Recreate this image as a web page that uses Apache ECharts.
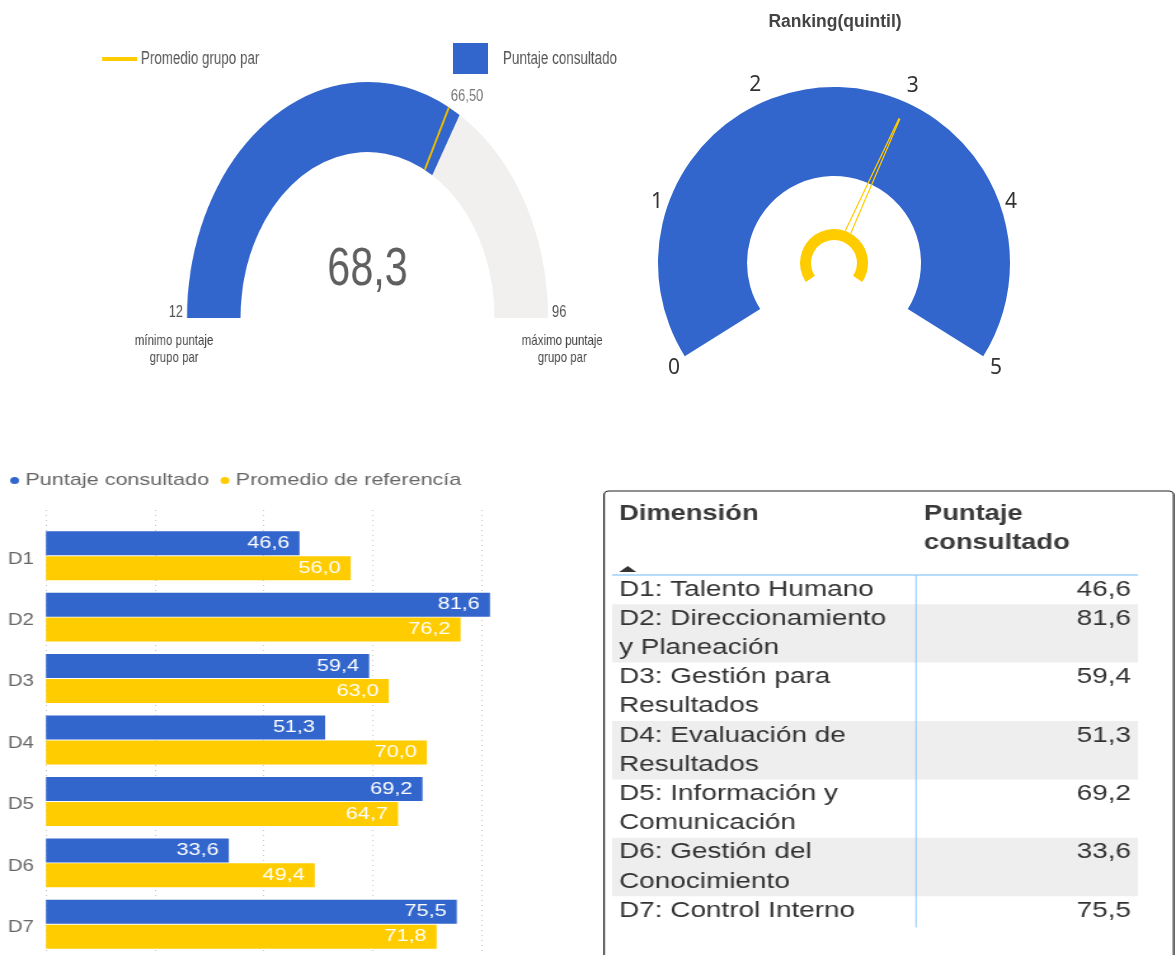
<!DOCTYPE html>
<html>
<head>
<meta charset="utf-8">
<script src="https://cdn.jsdelivr.net/npm/echarts@6/dist/echarts.min.js"></script>
<style>
  html, body { margin: 0; padding: 0; background: #fff; }
  #page { position: relative; width: 1175px; height: 955px; overflow: hidden; }
  .panel { position: absolute; }
  /* the source screenshot is squeezed / stretched horizontally per panel */
  #gaugeScore { left: 0; top: 0; width: 837px; height: 420px; transform: scaleX(0.765); transform-origin: 0 0; }
  #gaugeRank { left: 600px; top: 0; width: 575px; height: 420px; }
  #bottom { left: 0; top: 430px; width: 925px; height: 525px; transform: scaleX(1.27); transform-origin: 0 0; }
</style>
</head>
<body>
<div id="page">
  <div id="bottom" class="panel"></div>
  <div id="gaugeRank" class="panel"></div>
  <div id="gaugeScore" class="panel"></div>
</div>
<script>
const FONT = '"Liberation Sans", Arial, sans-serif';
const BLUE = '#3366CC';
const YELLOW = '#FFCC00';

// gauge: puntaje consultado vs grupo par
const puntajeTotal = 68.3;
const promedioGrupoPar = 66.5;
const minimoGrupoPar = 12;
const maximoGrupoPar = 96;

// gauge: ranking (quintil)
const rankingQuintil = 3;
const rankingMin = 0;
const rankingMax = 5;

// bars + table
const dimensiones = ['D1', 'D2', 'D3', 'D4', 'D5', 'D6', 'D7'];
const puntajeConsultado = [46.6, 81.6, 59.4, 51.3, 69.2, 33.6, 75.5];
const promedioReferencia = [56.0, 76.2, 63.0, 70.0, 64.7, 49.4, 71.8];
const dimensionNombres = [
  'D1: Talento Humano',
  'D2: Direccionamiento\ny Planeación',
  'D3: Gestión para\nResultados',
  'D4: Evaluación de\nResultados',
  'D5: Información y\nComunicación',
  'D6: Gestión del\nConocimiento',
  'D7: Control Interno'
];

const fmt = (v, d) => v.toFixed(d).replace('.', ',');

// ---------- top left gauge ----------
const scoreChart = echarts.init(document.getElementById('gaugeScore'));
const gc = [480.4, 318];
const gR = 236;
const gW = 70;

scoreChart.setOption({
  animation: false,
  polar: { center: gc, radius: gR },
  angleAxis: {
    type: 'value', min: minimoGrupoPar, max: maximoGrupoPar,
    startAngle: 180, endAngle: 0, show: false
  },
  radiusAxis: { type: 'value', min: 0, max: gR, show: false },
  graphic: [
    { type: 'rect', shape: { x: 133.3, y: 57, width: 45.7, height: 4 }, style: { fill: YELLOW } },
    { type: 'text', style: { text: 'Promedio grupo par', x: 184.3, y: 59, align: 'left', verticalAlign: 'middle', fontSize: 17.5, fontFamily: FONT, fill: '#555' } },
    { type: 'rect', shape: { x: 592, y: 43, width: 46, height: 31 }, style: { fill: BLUE } },
    { type: 'text', style: { text: 'Puntaje consultado', x: 657.5, y: 59, align: 'left', verticalAlign: 'middle', fontSize: 17.5, fontFamily: FONT, fill: '#555' } },
    { type: 'text', style: { text: 'mínimo puntaje\ngrupo par', x: 227.5, y: 332, align: 'center', verticalAlign: 'top', lineHeight: 17, fontSize: 15, fontFamily: FONT, fill: '#444' } },
    { type: 'text', style: { text: 'máximo puntaje\ngrupo par', x: 735, y: 332, align: 'center', verticalAlign: 'top', lineHeight: 17, fontSize: 15, fontFamily: FONT, fill: '#444' } }
  ],
  series: [
    {
      type: 'gauge',
      center: gc,
      radius: gR,
      startAngle: 180,
      endAngle: 0,
      min: minimoGrupoPar,
      max: maximoGrupoPar,
      splitNumber: 1,
      axisLine: { lineStyle: { width: gW, color: [[1, '#F1F0EF']] } },
      progress: { show: true, width: gW, itemStyle: { color: BLUE } },
      pointer: { show: false },
      anchor: { show: false },
      axisTick: { show: false },
      splitLine: { show: false, length: 0, distance: 0 },
      axisLabel: {
        distance: -24, color: '#555', fontSize: 17, fontFamily: FONT,
        formatter: v => '{v|' + Math.round(v) + '}',
        rich: { v: { fontSize: 17, color: '#555', fontFamily: FONT, padding: [0, 0, 11, 0] } }
      },
      title: { show: false },
      detail: {
        offsetCenter: [0, -48], fontSize: 54, fontWeight: 'normal', color: '#5f5f5f', fontFamily: FONT,
        formatter: v => fmt(v, 1)
      },
      data: [{ value: puntajeTotal }]
    },
    {
      type: 'line',
      coordinateSystem: 'polar',
      data: [[gR - gW, promedioGrupoPar], [gR, promedioGrupoPar]],
      symbol: 'none',
      lineStyle: { color: '#E8BA00', width: 2.5 },
      z: 4
    },
    {
      type: 'scatter',
      coordinateSystem: 'polar',
      clip: false,
      data: [[gR, promedioGrupoPar]],
      symbolSize: 1,
      itemStyle: { color: 'rgba(0,0,0,0)' },
      label: {
        show: true, position: [3, -2], align: 'left', verticalAlign: 'bottom',
        formatter: p => fmt(p.value[1], 2), fontSize: 17, fontFamily: FONT, color: '#555'
      },
      z: 4
    }
  ]
});

// ---------- top right gauge ----------
const rankChart = echarts.init(document.getElementById('gaugeRank'));
const rc = [234, 263];

// per-tick nudges so the labels sit outside the ring like the reference
const rankLabelRich = {
  l0: { padding: [0, 0, 12, 12] },
  l1: { padding: [0, 0, 0, 18] },
  l2: { padding: [3, 0, 0, 2] },
  l3: { padding: [4, 2, 0, 0] },
  l4: { padding: [0, 18, 0, 0] },
  l5: { padding: [0, 10, 12, 0] }
};

rankChart.setOption({
  animation: false,
  graphic: [
    { type: 'text', style: { text: 'Ranking(quintil)', x: 235, y: 22, align: 'center', verticalAlign: 'middle', fontSize: 17.5, fontWeight: 'bold', fontFamily: FONT, fill: '#444' } }
  ],
  series: [
    {
      type: 'gauge',
      center: rc,
      radius: 176,
      startAngle: 212,
      endAngle: -32,
      min: rankingMin,
      max: rankingMax,
      splitNumber: rankingMax - rankingMin,
      axisLine: { lineStyle: { width: 89, color: [[1, BLUE]] } },
      axisTick: { show: false },
      splitLine: { show: false, length: 0, distance: 0 },
      axisLabel: {
        distance: -34, fontSize: 21, color: '#333', fontFamily: '"Noto Sans", sans-serif',
        formatter: v => '{l' + Math.round(v) + '|' + Math.round(v) + '}',
        rich: Object.fromEntries(Object.entries(rankLabelRich).map(([k, s]) => [k, Object.assign({ fontSize: 21, color: '#333', fontFamily: '"Noto Sans", sans-serif' }, s)]))
      },
      pointer: {
        show: true,
        icon: 'path://M0,100 L4.2,0 L5.8,0 L10,100',
        length: 124,
        width: 6,
        offsetCenter: [0, -34],
        itemStyle: { color: 'rgba(0,0,0,0)', borderColor: YELLOW, borderWidth: 1.2 }
      },
      anchor: { show: false },
      title: { show: false },
      detail: { show: false },
      data: [{ value: rankingQuintil }]
    },
    {
      type: 'gauge',
      center: rc,
      radius: 34,
      startAngle: 214,
      endAngle: -34,
      z: 5,
      axisLine: { lineStyle: { width: 11, color: [[1, YELLOW]] } },
      axisTick: { show: false },
      splitLine: { show: false },
      axisLabel: { show: false },
      pointer: { show: false },
      anchor: { show: false },
      title: { show: false },
      detail: { show: false },
      data: [{ value: 0 }]
    }
  ]
});

// ---------- bottom: bars + table ----------
const bottomChart = echarts.init(document.getElementById('bottom'));

const table = [];
const tx = 487.4, valX = 890.6, lineH = 29.2, headLineY = 145;
table.push({ type: 'rect', z: 1, shape: { x: 475.6, y: 61, width: 448.5, height: 600, r: 4 }, style: { fill: 'none', stroke: '#222', lineWidth: 1.2 } });
table.push({ type: 'text', z: 3, style: { text: 'Dimensión', x: tx, y: 69.5, align: 'left', verticalAlign: 'top', lineHeight: 29, fontSize: 21.5, fontWeight: 'bold', fontFamily: FONT, fill: '#3a3a3a' } });
table.push({ type: 'text', z: 3, style: { text: 'Puntaje\nconsultado', x: 727.6, y: 69.5, align: 'left', verticalAlign: 'top', lineHeight: 29, fontSize: 21.5, fontWeight: 'bold', fontFamily: FONT, fill: '#3a3a3a' } });
table.push({ type: 'polygon', z: 3, shape: { points: [[487.6, 142], [501, 142], [494.3, 136]] }, style: { fill: '#333' } });
table.push({ type: 'line', z: 2, shape: { x1: 482, y1: headLineY, x2: 896, y2: headLineY }, style: { stroke: '#9fcff8', lineWidth: 1.5 } });

let rowY = headLineY;
dimensionNombres.forEach((name, i) => {
  const h = name.split('\n').length * lineH;
  if (i % 2 === 1) {
    table.push({ type: 'rect', z: 1, shape: { x: 482, y: rowY, width: 414, height: h }, style: { fill: '#eeeeee' } });
  }
  table.push({ type: 'text', z: 3, style: { text: name, x: tx, y: rowY, align: 'left', verticalAlign: 'top', lineHeight: lineH, fontSize: 22, fontFamily: FONT, fill: '#333' } });
  table.push({ type: 'text', z: 3, style: { text: fmt(puntajeConsultado[i], 1), x: valX, y: rowY, align: 'right', verticalAlign: 'top', lineHeight: lineH, fontSize: 22, fontFamily: FONT, fill: '#333' } });
  rowY += h;
});
table.push({ type: 'line', z: 2, shape: { x1: 721.3, y1: headLineY, x2: 721.3, y2: rowY + 2 }, style: { stroke: '#90c6f2', lineWidth: 1 } });

const xMax = Math.max(...puntajeConsultado, ...promedioReferencia);
const gridColors = ['#c8c8c8', '#c8c8c8', '#c8c8c8', '#c8c8c8', '#c8c8c8', 'rgba(0,0,0,0)'];

bottomChart.setOption({
  animation: false,
  textStyle: { fontFamily: FONT },
  legend: {
    left: 3, top: 37,
    icon: 'circle', itemWidth: 7, itemHeight: 8, itemGap: 9,
    textStyle: { fontSize: 17, color: '#666', fontFamily: FONT },
    data: ['Puntaje consultado', 'Promedio de referencía']
  },
  grid: [
    { left: 36.2, top: 95, width: 349.6, height: 444.5 },
    // taller grid only for the dotted value gridlines, which start above the first bar
    { left: 36.2, top: 80, width: 349.6, height: 460 }
  ],
  xAxis: [
    {
      type: 'value', min: 0, max: xMax, interval: 20,
      axisLabel: { show: false }, axisLine: { show: false }, axisTick: { show: false },
      splitLine: { show: false }
    },
    {
      gridIndex: 1, type: 'value', min: 0, max: xMax, interval: 20,
      axisLabel: { show: false }, axisLine: { show: false }, axisTick: { show: false },
      splitLine: { show: true, lineStyle: { color: gridColors, type: [1, 4], width: 1 } }
    }
  ],
  yAxis: [
    {
      type: 'category', inverse: true, data: dimensiones,
      axisLine: { show: false }, axisTick: { show: false },
      axisLabel: {
        align: 'left', margin: 30,
        formatter: v => '{c|' + v + '}',
        rich: { c: { fontSize: 16, color: '#666', fontFamily: FONT, padding: [7, 0, 0, 0] } }
      }
    },
    { gridIndex: 1, type: 'value', show: false }
  ],
  series: [
    {
      name: 'Puntaje consultado', type: 'bar', data: puntajeConsultado,
      barWidth: 24, barGap: '4%',
      itemStyle: { color: BLUE },
      label: { show: true, position: 'insideRight', distance: 8, color: '#fff', fontSize: 17, fontFamily: FONT, formatter: p => fmt(p.value, 1) }
    },
    {
      name: 'Promedio de referencía', type: 'bar', data: promedioReferencia,
      barWidth: 24,
      itemStyle: { color: YELLOW },
      label: { show: true, position: 'insideRight', distance: 8, color: '#fff', fontSize: 17, fontFamily: FONT, formatter: p => fmt(p.value, 1) }
    }
  ],
  graphic: table
});
</script>
</body>
</html>
